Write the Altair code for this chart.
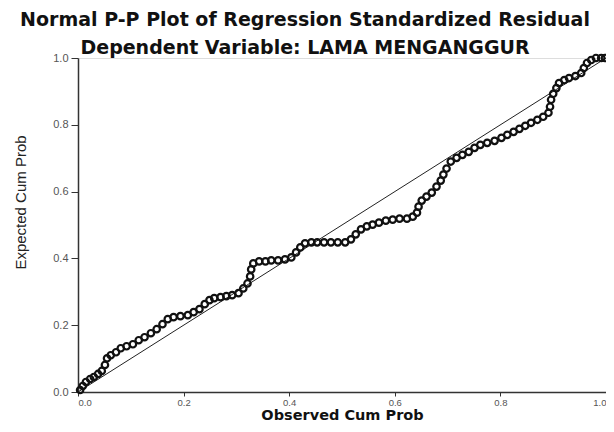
import altair as alt
import pandas as pd

observed = [0.004, 0.009, 0.015, 0.023, 0.030, 0.038, 0.045, 0.051, 0.055, 0.062,
            0.072, 0.081, 0.092, 0.104, 0.115, 0.126, 0.138, 0.149, 0.160, 0.170,
            0.181, 0.194, 0.208, 0.219, 0.230, 0.240, 0.249, 0.258, 0.270, 0.281,
            0.292, 0.304, 0.313, 0.321, 0.326, 0.328, 0.332, 0.343, 0.355, 0.366,
            0.379, 0.392, 0.404, 0.413, 0.421, 0.430, 0.442, 0.453, 0.466, 0.479,
            0.492, 0.506, 0.517, 0.526, 0.536, 0.547, 0.558, 0.570, 0.583, 0.596,
            0.609, 0.623, 0.634, 0.642, 0.645, 0.651, 0.660, 0.670, 0.679, 0.687,
            0.692, 0.698, 0.706, 0.717, 0.728, 0.740, 0.751, 0.762, 0.775, 0.789,
            0.802, 0.813, 0.825, 0.836, 0.847, 0.858, 0.870, 0.881, 0.891, 0.894,
            0.896, 0.900, 0.906, 0.911, 0.921, 0.930, 0.942, 0.953, 0.958, 0.964,
            0.972, 0.981, 0.991, 0.998]
expected = [0.006, 0.018, 0.030, 0.039, 0.045, 0.054, 0.063, 0.081, 0.101, 0.110,
            0.119, 0.131, 0.137, 0.143, 0.155, 0.164, 0.176, 0.188, 0.203, 0.218,
            0.224, 0.227, 0.230, 0.239, 0.248, 0.263, 0.275, 0.281, 0.284, 0.287,
            0.290, 0.296, 0.310, 0.325, 0.346, 0.367, 0.385, 0.391, 0.391, 0.394,
            0.394, 0.397, 0.403, 0.418, 0.433, 0.445, 0.448, 0.448, 0.448, 0.448,
            0.448, 0.448, 0.457, 0.472, 0.487, 0.496, 0.501, 0.507, 0.513, 0.516,
            0.519, 0.519, 0.525, 0.537, 0.555, 0.573, 0.585, 0.597, 0.615, 0.633,
            0.651, 0.669, 0.690, 0.701, 0.710, 0.719, 0.731, 0.740, 0.746, 0.752,
            0.761, 0.770, 0.779, 0.788, 0.797, 0.806, 0.815, 0.824, 0.836, 0.854,
            0.875, 0.893, 0.910, 0.925, 0.934, 0.940, 0.946, 0.955, 0.970, 0.985,
            0.994, 1.000, 1.000, 1.000]

diag_x = [0.0, 1.0]
diag_y = [0.0, 1.0]
ticks = [0.0, 0.2, 0.4, 0.6, 0.8, 1.0]

pts = pd.DataFrame({"obs": observed, "exp": expected})
diag = pd.DataFrame({"obs": diag_x, "exp": diag_y})

xscale = alt.Scale(domain=[0, 1], nice=False, zero=False)
yscale = alt.Scale(domain=[0, 1], nice=False, zero=False)

xaxis = alt.Axis(values=ticks, format=".1f", title="Observed Cum Prob", grid=False,
                 tickSize=4, tickColor="#333", domainColor="#333", domainWidth=1.5,
                 labelColor="#555", labelFontSize=9.5, labelFont="Liberation Sans",
                 labelPadding=1, titleFont="DejaVu Sans", titleFontWeight="bold",
                 titleFontSize=14.5, titleColor="#111", titleBaseline="top", titleY=16)
yaxis = alt.Axis(values=ticks, format=".1f", title="Expected Cum Prob", grid=False,
                 tickSize=7, tickColor="#333", domainColor="#333", domainWidth=1.5,
                 labelColor="#555", labelFontSize=11, labelFont="Liberation Sans",
                 labelPadding=3, titleFont="Liberation Sans",
                 titleFontWeight="normal", titleFontSize=15, titleColor="#222",
                 titleX=-50, titleY=144)

line = alt.Chart(diag).mark_line(color="#222", strokeWidth=1).encode(
    x=alt.X("obs:Q", scale=xscale, axis=xaxis),
    y=alt.Y("exp:Q", scale=yscale, axis=yaxis),
)
points = alt.Chart(pts).mark_point(filled=False, color="#111", size=42,
                                   strokeWidth=2.2, opacity=1).encode(
    x=alt.X("obs:Q", scale=xscale),
    y=alt.Y("exp:Q", scale=yscale),
)

chart = (line + points).properties(
    width=528, height=334,
    title=alt.TitleParams(
        text="Normal P-P Plot of Regression Standardized Residual",
        subtitle="Dependent Variable: LAMA MENGANGGUR",
        font="DejaVu Sans", fontSize=19, fontWeight="bold", color="#111",
        subtitleFont="DejaVu Sans", subtitleFontSize=19, subtitleFontWeight="bold",
        subtitleColor="#111", subtitlePadding=9, anchor="middle", dx=-37, offset=-8,
    ),
    autosize=alt.AutoSizeParams(type="none"),
    padding={"left": 70, "top": 50, "right": 0, "bottom": 32},
).configure_view(stroke="#888", strokeWidth=1.5).configure(background="white")

chart.save("out.html", embed_options={"renderer": "svg", "actions": False})
